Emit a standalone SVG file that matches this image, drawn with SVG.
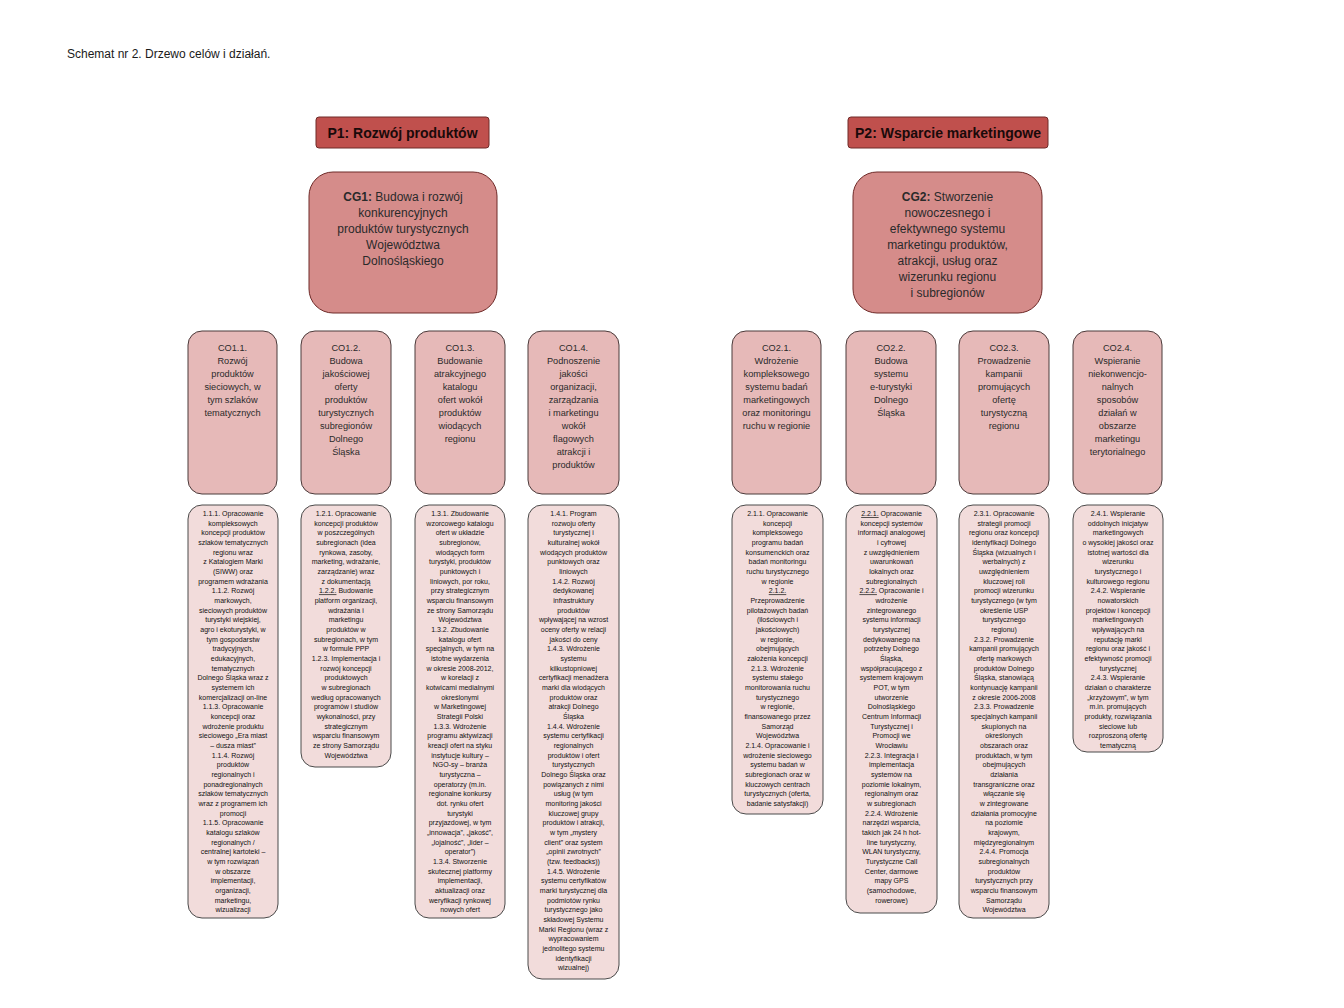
<svg xmlns="http://www.w3.org/2000/svg" width="1344" height="1008" viewBox="0 0 1344 1008">
<style>
.bg{fill:#ffffff}
.p{fill:#c0504d;stroke:#6e2a28;stroke-width:1}
.cg{fill:#d58c8a;stroke:#6e2a28;stroke-width:1}
.co{fill:#e6b9b8;stroke:#4a3a3a;stroke-width:1}
.act{fill:#f2dcdb;stroke:#4a4a4a;stroke-width:1}
text{font-family:"Liberation Sans",Arial,sans-serif;fill:#1a1a1a;text-anchor:middle}
.title{font-size:12px;text-anchor:start}
.pt{font-size:14px;font-weight:bold;fill:#1a0a0a}
.cgt{font-size:12px;fill:#2a2a2a}
.cot{font-size:9.2px;fill:#2a2a2a}
.at{font-size:7px;fill:#111}
.u{text-decoration:underline}
</style>
<rect class="bg" x="0" y="0" width="1344" height="1008"/>
<text class="title" x="67" y="58">Schemat nr 2. Drzewo celów i działań.</text>
<g id="connectors"></g>

<g id="P1"><rect class="p" x="316" y="117" width="173" height="31" rx="3"/><text class="pt" x="402.5" y="138">P1: Rozwój produktów</text></g>
<g id="P2"><rect class="p" x="848" y="117" width="200" height="31" rx="3"/><text class="pt" x="948" y="138">P2: Wsparcie marketingowe</text></g>

<g id="CG1"><rect class="cg" x="309" y="172" width="188" height="141" rx="24"/>
<text class="cgt" x="403" y="201"><tspan font-weight="bold">CG1:</tspan> Budowa i rozwój<tspan x="403" dy="16">konkurencyjnych</tspan><tspan x="403" dy="16">produktów turystycznych</tspan><tspan x="403" dy="16">Województwa</tspan><tspan x="403" dy="16">Dolnośląskiego</tspan></text></g>
<g id="CG2"><rect class="cg" x="853" y="172" width="189" height="141" rx="24"/>
<text class="cgt" x="947.5" y="201"><tspan font-weight="bold">CG2:</tspan> Stworzenie<tspan x="947.5" dy="16">nowoczesnego i</tspan><tspan x="947.5" dy="16">efektywnego systemu</tspan><tspan x="947.5" dy="16">marketingu produktów,</tspan><tspan x="947.5" dy="16">atrakcji, usług oraz</tspan><tspan x="947.5" dy="16">wizerunku regionu</tspan><tspan x="947.5" dy="16">i subregionów</tspan></text></g>

<g id="CO1.1"><rect class="co" x="188" y="331" width="89" height="163" rx="14"/>
<text class="cot" x="232.5" y="351">CO1.1.<tspan x="232.5" dy="13">Rozwój</tspan><tspan x="232.5" dy="13">produktów</tspan><tspan x="232.5" dy="13">sieciowych, w</tspan><tspan x="232.5" dy="13">tym szlaków</tspan><tspan x="232.5" dy="13">tematycznych</tspan></text></g>
<g id="CO1.2"><rect class="co" x="301" y="331" width="90" height="163" rx="14"/>
<text class="cot" x="346" y="351">CO1.2.<tspan x="346" dy="13">Budowa</tspan><tspan x="346" dy="13">jakościowej</tspan><tspan x="346" dy="13">oferty</tspan><tspan x="346" dy="13">produktów</tspan><tspan x="346" dy="13">turystycznych</tspan><tspan x="346" dy="13">subregionów</tspan><tspan x="346" dy="13">Dolnego</tspan><tspan x="346" dy="13">Śląska</tspan></text></g>
<g id="CO1.3"><rect class="co" x="415" y="331" width="90" height="163" rx="14"/>
<text class="cot" x="460" y="351">CO1.3.<tspan x="460" dy="13">Budowanie</tspan><tspan x="460" dy="13">atrakcyjnego</tspan><tspan x="460" dy="13">katalogu</tspan><tspan x="460" dy="13">ofert wokół</tspan><tspan x="460" dy="13">produktów</tspan><tspan x="460" dy="13">wiodących</tspan><tspan x="460" dy="13">regionu</tspan></text></g>
<g id="CO1.4"><rect class="co" x="528" y="331" width="91" height="163" rx="14"/>
<text class="cot" x="573.5" y="351">CO1.4.<tspan x="573.5" dy="13">Podnoszenie</tspan><tspan x="573.5" dy="13">jakości</tspan><tspan x="573.5" dy="13">organizacji,</tspan><tspan x="573.5" dy="13">zarządzania</tspan><tspan x="573.5" dy="13">i marketingu</tspan><tspan x="573.5" dy="13">wokół</tspan><tspan x="573.5" dy="13">flagowych</tspan><tspan x="573.5" dy="13">atrakcji i</tspan><tspan x="573.5" dy="13">produktów</tspan></text></g>
<g id="CO2.1"><rect class="co" x="732" y="331" width="89" height="163" rx="14"/>
<text class="cot" x="776.5" y="351">CO2.1.<tspan x="776.5" dy="13">Wdrożenie</tspan><tspan x="776.5" dy="13">kompleksowego</tspan><tspan x="776.5" dy="13">systemu badań</tspan><tspan x="776.5" dy="13">marketingowych</tspan><tspan x="776.5" dy="13">oraz monitoringu</tspan><tspan x="776.5" dy="13">ruchu w regionie</tspan></text></g>
<g id="CO2.2"><rect class="co" x="846" y="331" width="90" height="163" rx="14"/>
<text class="cot" x="891" y="351">CO2.2.<tspan x="891" dy="13">Budowa</tspan><tspan x="891" dy="13">systemu</tspan><tspan x="891" dy="13">e-turystyki</tspan><tspan x="891" dy="13">Dolnego</tspan><tspan x="891" dy="13">Śląska</tspan></text></g>
<g id="CO2.3"><rect class="co" x="959" y="331" width="90" height="163" rx="14"/>
<text class="cot" x="1004" y="351">CO2.3.<tspan x="1004" dy="13">Prowadzenie</tspan><tspan x="1004" dy="13">kampanii</tspan><tspan x="1004" dy="13">promujących</tspan><tspan x="1004" dy="13">ofertę</tspan><tspan x="1004" dy="13">turystyczną</tspan><tspan x="1004" dy="13">regionu</tspan></text></g>
<g id="CO2.4"><rect class="co" x="1073" y="331" width="89" height="163" rx="14"/>
<text class="cot" x="1117.5" y="351">CO2.4.<tspan x="1117.5" dy="13">Wspieranie</tspan><tspan x="1117.5" dy="13">niekonwencjo-</tspan><tspan x="1117.5" dy="13">nalnych</tspan><tspan x="1117.5" dy="13">sposobów</tspan><tspan x="1117.5" dy="13">działań w</tspan><tspan x="1117.5" dy="13">obszarze</tspan><tspan x="1117.5" dy="13">marketingu</tspan><tspan x="1117.5" dy="13">terytorialnego</tspan></text></g>

<g id="A1.1"><rect class="act" x="188" y="505" width="90" height="413" rx="14"/>
<text class="at" x="233" y="516">1.1.1. Opracowanie<tspan x="233" dy="9.67">kompleksowych</tspan><tspan x="233" dy="9.67">koncepcji produktów</tspan><tspan x="233" dy="9.67">szlaków tematycznych</tspan><tspan x="233" dy="9.67">regionu wraz</tspan><tspan x="233" dy="9.67">z Katalogiem Marki</tspan><tspan x="233" dy="9.67">(SIWW) oraz</tspan><tspan x="233" dy="9.67">programem wdrażania</tspan><tspan x="233" dy="9.67">1.1.2. Rozwój</tspan><tspan x="233" dy="9.67">markowych,</tspan><tspan x="233" dy="9.67">sieciowych produktów</tspan><tspan x="233" dy="9.67">turystyki wiejskiej,</tspan><tspan x="233" dy="9.67">agro i ekoturystyki, w</tspan><tspan x="233" dy="9.67">tym gospodarstw</tspan><tspan x="233" dy="9.67">tradycyjnych,</tspan><tspan x="233" dy="9.67">edukacyjnych,</tspan><tspan x="233" dy="9.67">tematycznych</tspan><tspan x="233" dy="9.67">Dolnego Śląska wraz z</tspan><tspan x="233" dy="9.67">systemem ich</tspan><tspan x="233" dy="9.67">komercjalizacji on-line</tspan><tspan x="233" dy="9.67">1.1.3. Opracowanie</tspan><tspan x="233" dy="9.67">koncepcji oraz</tspan><tspan x="233" dy="9.67">wdrożenie produktu</tspan><tspan x="233" dy="9.67">sieciowego „Era miast</tspan><tspan x="233" dy="9.67">– dusza miast”</tspan><tspan x="233" dy="9.67">1.1.4. Rozwój</tspan><tspan x="233" dy="9.67">produktów</tspan><tspan x="233" dy="9.67">regionalnych i</tspan><tspan x="233" dy="9.67">ponadregionalnych</tspan><tspan x="233" dy="9.67">szlaków tematycznych</tspan><tspan x="233" dy="9.67">wraz z programem ich</tspan><tspan x="233" dy="9.67">promocji</tspan><tspan x="233" dy="9.67">1.1.5. Opracowanie</tspan><tspan x="233" dy="9.67">katalogu szlaków</tspan><tspan x="233" dy="9.67">regionalnych /</tspan><tspan x="233" dy="9.67">centralnej kartoteki –</tspan><tspan x="233" dy="9.67">w tym rozwiązań</tspan><tspan x="233" dy="9.67">w obszarze</tspan><tspan x="233" dy="9.67">implementacji,</tspan><tspan x="233" dy="9.67">organizacji,</tspan><tspan x="233" dy="9.67">marketingu,</tspan><tspan x="233" dy="9.67">wizualizacji</tspan></text></g>

<g id="A1.2"><rect class="act" x="301" y="505" width="90" height="262" rx="14"/>
<text class="at" x="346" y="516">1.2.1. Opracowanie<tspan x="346" dy="9.67">koncepcji produktów</tspan><tspan x="346" dy="9.67">w poszczególnych</tspan><tspan x="346" dy="9.67">subregionach (idea</tspan><tspan x="346" dy="9.67">rynkowa, zasoby,</tspan><tspan x="346" dy="9.67">marketing, wdrażanie,</tspan><tspan x="346" dy="9.67">zarządzanie) wraz</tspan><tspan x="346" dy="9.67">z dokumentacją</tspan><tspan x="346" dy="9.67"><tspan class="u">1.2.2.</tspan> Budowanie</tspan><tspan x="346" dy="9.67">platform organizacji,</tspan><tspan x="346" dy="9.67">wdrażania i</tspan><tspan x="346" dy="9.67">marketingu</tspan><tspan x="346" dy="9.67">produktów w</tspan><tspan x="346" dy="9.67">subregionach, w tym</tspan><tspan x="346" dy="9.67">w formule PPP</tspan><tspan x="346" dy="9.67">1.2.3. Implementacja i</tspan><tspan x="346" dy="9.67">rozwój koncepcji</tspan><tspan x="346" dy="9.67">produktowych</tspan><tspan x="346" dy="9.67">w subregionach</tspan><tspan x="346" dy="9.67">według opracowanych</tspan><tspan x="346" dy="9.67">programów i studiów</tspan><tspan x="346" dy="9.67">wykonalności, przy</tspan><tspan x="346" dy="9.67">strategicznym</tspan><tspan x="346" dy="9.67">wsparciu finansowym</tspan><tspan x="346" dy="9.67">ze strony Samorządu</tspan><tspan x="346" dy="9.67">Województwa</tspan></text></g>

<g id="A1.3"><rect class="act" x="415" y="505" width="90" height="413" rx="14"/>
<text class="at" x="460" y="516">1.3.1. Zbudowanie<tspan x="460" dy="9.67">wzorcowego katalogu</tspan><tspan x="460" dy="9.67">ofert w układzie</tspan><tspan x="460" dy="9.67">subregionów,</tspan><tspan x="460" dy="9.67">wiodących form</tspan><tspan x="460" dy="9.67">turystyki, produktów</tspan><tspan x="460" dy="9.67">punktowych i</tspan><tspan x="460" dy="9.67">liniowych, por roku,</tspan><tspan x="460" dy="9.67">przy strategicznym</tspan><tspan x="460" dy="9.67">wsparciu finansowym</tspan><tspan x="460" dy="9.67">ze strony Samorządu</tspan><tspan x="460" dy="9.67">Województwa</tspan><tspan x="460" dy="9.67">1.3.2. Zbudowanie</tspan><tspan x="460" dy="9.67">katalogu ofert</tspan><tspan x="460" dy="9.67">specjalnych, w tym na</tspan><tspan x="460" dy="9.67">istotne wydarzenia</tspan><tspan x="460" dy="9.67">w okresie 2008-2012,</tspan><tspan x="460" dy="9.67">w korelacji z</tspan><tspan x="460" dy="9.67">kotwicami medialnymi</tspan><tspan x="460" dy="9.67">określonymi</tspan><tspan x="460" dy="9.67">w  Marketingowej</tspan><tspan x="460" dy="9.67">Strategii Polski</tspan><tspan x="460" dy="9.67">1.3.3. Wdrożenie</tspan><tspan x="460" dy="9.67">programu aktywizacji</tspan><tspan x="460" dy="9.67">kreacji ofert na styku</tspan><tspan x="460" dy="9.67">instytucje kultury –</tspan><tspan x="460" dy="9.67">NGO-sy – branża</tspan><tspan x="460" dy="9.67">turystyczna –</tspan><tspan x="460" dy="9.67">operatorzy (m.in.</tspan><tspan x="460" dy="9.67">regionalne konkursy</tspan><tspan x="460" dy="9.67">dot. rynku ofert</tspan><tspan x="460" dy="9.67">turystyki</tspan><tspan x="460" dy="9.67">przyjazdowej, w tym</tspan><tspan x="460" dy="9.67">„innowacja”, „jakość”,</tspan><tspan x="460" dy="9.67">„lojalność”, „lider –</tspan><tspan x="460" dy="9.67">operator”)</tspan><tspan x="460" dy="9.67">1.3.4. Stworzenie</tspan><tspan x="460" dy="9.67">skutecznej platformy</tspan><tspan x="460" dy="9.67">implementacji,</tspan><tspan x="460" dy="9.67">aktualizacji oraz</tspan><tspan x="460" dy="9.67">weryfikacji rynkowej</tspan><tspan x="460" dy="9.67">nowych ofert</tspan></text></g>

<g id="A1.4"><rect class="act" x="528" y="505" width="91" height="474" rx="14"/>
<text class="at" x="573.5" y="516">1.4.1. Program<tspan x="573.5" dy="9.67">rozwoju oferty</tspan><tspan x="573.5" dy="9.67">turystycznej i</tspan><tspan x="573.5" dy="9.67">kulturalnej wokół</tspan><tspan x="573.5" dy="9.67">wiodących produktów</tspan><tspan x="573.5" dy="9.67">punktowych oraz</tspan><tspan x="573.5" dy="9.67">liniowych</tspan><tspan x="573.5" dy="9.67">1.4.2. Rozwój</tspan><tspan x="573.5" dy="9.67">dedykowanej</tspan><tspan x="573.5" dy="9.67">infrastruktury</tspan><tspan x="573.5" dy="9.67">produktów</tspan><tspan x="573.5" dy="9.67">wpływającej na wzrost</tspan><tspan x="573.5" dy="9.67">oceny oferty w relacji</tspan><tspan x="573.5" dy="9.67">jakości do ceny</tspan><tspan x="573.5" dy="9.67">1.4.3. Wdrożenie</tspan><tspan x="573.5" dy="9.67">systemu</tspan><tspan x="573.5" dy="9.67">kilkustopniowej</tspan><tspan x="573.5" dy="9.67">certyfikacji menadżera</tspan><tspan x="573.5" dy="9.67">marki dla wiodących</tspan><tspan x="573.5" dy="9.67">produktów oraz</tspan><tspan x="573.5" dy="9.67">atrakcji Dolnego</tspan><tspan x="573.5" dy="9.67">Śląska</tspan><tspan x="573.5" dy="9.67">1.4.4. Wdrożenie</tspan><tspan x="573.5" dy="9.67">systemu certyfikacji</tspan><tspan x="573.5" dy="9.67">regionalnych</tspan><tspan x="573.5" dy="9.67">produktów i ofert</tspan><tspan x="573.5" dy="9.67">turystycznych</tspan><tspan x="573.5" dy="9.67">Dolnego Śląska oraz</tspan><tspan x="573.5" dy="9.67">powiązanych z nimi</tspan><tspan x="573.5" dy="9.67">usług (w tym</tspan><tspan x="573.5" dy="9.67">monitoring jakości</tspan><tspan x="573.5" dy="9.67">kluczowej grupy</tspan><tspan x="573.5" dy="9.67">produktów i atrakcji,</tspan><tspan x="573.5" dy="9.67">w tym  „mystery</tspan><tspan x="573.5" dy="9.67">client” oraz system</tspan><tspan x="573.5" dy="9.67">„opinii zwrotnych”</tspan><tspan x="573.5" dy="9.67">(tzw. feedbacks))</tspan><tspan x="573.5" dy="9.67">1.4.5. Wdrożenie</tspan><tspan x="573.5" dy="9.67">systemu certyfikatów</tspan><tspan x="573.5" dy="9.67">marki turystycznej dla</tspan><tspan x="573.5" dy="9.67">podmiotów rynku</tspan><tspan x="573.5" dy="9.67">turystycznego jako</tspan><tspan x="573.5" dy="9.67">składowej Systemu</tspan><tspan x="573.5" dy="9.67">Marki Regionu (wraz z</tspan><tspan x="573.5" dy="9.67">wypracowaniem</tspan><tspan x="573.5" dy="9.67">jednolitego systemu</tspan><tspan x="573.5" dy="9.67">identyfikacji</tspan><tspan x="573.5" dy="9.67">wizualnej)</tspan></text></g>

<g id="A2.1"><rect class="act" x="732" y="505" width="91" height="309" rx="14"/>
<text class="at" x="777.5" y="516">2.1.1. Opracowanie<tspan x="777.5" dy="9.67">koncepcji</tspan><tspan x="777.5" dy="9.67">kompleksowego</tspan><tspan x="777.5" dy="9.67">programu badań</tspan><tspan x="777.5" dy="9.67">konsumenckich oraz</tspan><tspan x="777.5" dy="9.67">badań monitoringu</tspan><tspan x="777.5" dy="9.67">ruchu turystycznego</tspan><tspan x="777.5" dy="9.67">w regionie</tspan><tspan x="777.5" dy="9.67" class="u">2.1.2.</tspan><tspan x="777.5" dy="9.67">Przeprowadzenie</tspan><tspan x="777.5" dy="9.67">pilotażowych badań</tspan><tspan x="777.5" dy="9.67">(ilościowych i</tspan><tspan x="777.5" dy="9.67">jakościowych)</tspan><tspan x="777.5" dy="9.67">w regionie,</tspan><tspan x="777.5" dy="9.67">obejmujących</tspan><tspan x="777.5" dy="9.67">założenia  koncepcji</tspan><tspan x="777.5" dy="9.67">2.1.3. Wdrożenie</tspan><tspan x="777.5" dy="9.67">systemu stałego</tspan><tspan x="777.5" dy="9.67">monitorowania ruchu</tspan><tspan x="777.5" dy="9.67">turystycznego</tspan><tspan x="777.5" dy="9.67">w regionie,</tspan><tspan x="777.5" dy="9.67">finansowanego przez</tspan><tspan x="777.5" dy="9.67">Samorząd</tspan><tspan x="777.5" dy="9.67">Województwa</tspan><tspan x="777.5" dy="9.67">2.1.4. Opracowanie i</tspan><tspan x="777.5" dy="9.67">wdrożenie sieciowego</tspan><tspan x="777.5" dy="9.67">systemu badań w</tspan><tspan x="777.5" dy="9.67">subregionach oraz w</tspan><tspan x="777.5" dy="9.67">kluczowych centrach</tspan><tspan x="777.5" dy="9.67">turystycznych (oferta,</tspan><tspan x="777.5" dy="9.67">badanie satysfakcji)</tspan></text></g>

<g id="A2.2"><rect class="act" x="846" y="505" width="91" height="408" rx="14"/>
<text class="at" x="891.5" y="516"><tspan class="u">2.2.1.</tspan> Opracowanie<tspan x="891.5" dy="9.67">koncepcji systemów</tspan><tspan x="891.5" dy="9.67">informacji analogowej</tspan><tspan x="891.5" dy="9.67">i cyfrowej</tspan><tspan x="891.5" dy="9.67">z uwzględnieniem</tspan><tspan x="891.5" dy="9.67">uwarunkowań</tspan><tspan x="891.5" dy="9.67">lokalnych oraz</tspan><tspan x="891.5" dy="9.67">subregionalnych</tspan><tspan x="891.5" dy="9.67"><tspan class="u">2.2.2.</tspan> Opracowanie i</tspan><tspan x="891.5" dy="9.67">wdrożenie</tspan><tspan x="891.5" dy="9.67">zintegrowanego</tspan><tspan x="891.5" dy="9.67">systemu informacji</tspan><tspan x="891.5" dy="9.67">turystycznej</tspan><tspan x="891.5" dy="9.67">dedykowanego na</tspan><tspan x="891.5" dy="9.67">potrzeby Dolnego</tspan><tspan x="891.5" dy="9.67">Śląska,</tspan><tspan x="891.5" dy="9.67">współpracującego z</tspan><tspan x="891.5" dy="9.67">systemem krajowym</tspan><tspan x="891.5" dy="9.67">POT, w tym</tspan><tspan x="891.5" dy="9.67">utworzenie</tspan><tspan x="891.5" dy="9.67">Dolnośląskiego</tspan><tspan x="891.5" dy="9.67">Centrum Informacji</tspan><tspan x="891.5" dy="9.67">Turystycznej i</tspan><tspan x="891.5" dy="9.67">Promocji we</tspan><tspan x="891.5" dy="9.67">Wrocławiu</tspan><tspan x="891.5" dy="9.67">2.2.3. Integracja i</tspan><tspan x="891.5" dy="9.67">implementacja</tspan><tspan x="891.5" dy="9.67">systemów na</tspan><tspan x="891.5" dy="9.67">poziomie lokalnym,</tspan><tspan x="891.5" dy="9.67">regionalnym oraz</tspan><tspan x="891.5" dy="9.67">w subregionach</tspan><tspan x="891.5" dy="9.67">2.2.4. Wdrożenie</tspan><tspan x="891.5" dy="9.67">narzędzi wsparcia,</tspan><tspan x="891.5" dy="9.67">takich jak 24 h hot-</tspan><tspan x="891.5" dy="9.67">line turystyczny,</tspan><tspan x="891.5" dy="9.67">WLAN turystyczny,</tspan><tspan x="891.5" dy="9.67">Turystyczne Call</tspan><tspan x="891.5" dy="9.67">Center, darmowe</tspan><tspan x="891.5" dy="9.67">mapy GPS</tspan><tspan x="891.5" dy="9.67">(samochodowe,</tspan><tspan x="891.5" dy="9.67">rowerowe)</tspan></text></g>

<g id="A2.3"><rect class="act" x="959" y="505" width="90" height="413" rx="14"/>
<text class="at" x="1004" y="516">2.3.1. Opracowanie<tspan x="1004" dy="9.67">strategii promocji</tspan><tspan x="1004" dy="9.67">regionu oraz koncepcji</tspan><tspan x="1004" dy="9.67">identyfikacji Dolnego</tspan><tspan x="1004" dy="9.67">Śląska (wizualnych i</tspan><tspan x="1004" dy="9.67">werbalnych) z</tspan><tspan x="1004" dy="9.67">uwzględnieniem</tspan><tspan x="1004" dy="9.67">kluczowej roli</tspan><tspan x="1004" dy="9.67">promocji wizerunku</tspan><tspan x="1004" dy="9.67">turystycznego (w tym</tspan><tspan x="1004" dy="9.67">określenie USP</tspan><tspan x="1004" dy="9.67">turystycznego</tspan><tspan x="1004" dy="9.67">regionu)</tspan><tspan x="1004" dy="9.67">2.3.2. Prowadzenie</tspan><tspan x="1004" dy="9.67">kampanii promujących</tspan><tspan x="1004" dy="9.67">ofertę markowych</tspan><tspan x="1004" dy="9.67">produktów Dolnego</tspan><tspan x="1004" dy="9.67">Śląska, stanowiącą</tspan><tspan x="1004" dy="9.67">kontynuację kampanii</tspan><tspan x="1004" dy="9.67">z okresie 2006-2008</tspan><tspan x="1004" dy="9.67">2.3.3. Prowadzenie</tspan><tspan x="1004" dy="9.67">specjalnych kampanii</tspan><tspan x="1004" dy="9.67">skupionych na</tspan><tspan x="1004" dy="9.67">określonych</tspan><tspan x="1004" dy="9.67">obszarach oraz</tspan><tspan x="1004" dy="9.67">produktach, w tym</tspan><tspan x="1004" dy="9.67">obejmujących</tspan><tspan x="1004" dy="9.67">działania</tspan><tspan x="1004" dy="9.67">transgraniczne oraz</tspan><tspan x="1004" dy="9.67">włączanie się</tspan><tspan x="1004" dy="9.67">w zintegrowane</tspan><tspan x="1004" dy="9.67">działania promocyjne</tspan><tspan x="1004" dy="9.67">na poziomie</tspan><tspan x="1004" dy="9.67">krajowym,</tspan><tspan x="1004" dy="9.67">międzyregionalnym</tspan><tspan x="1004" dy="9.67">2.4.4. Promocja</tspan><tspan x="1004" dy="9.67">subregionalnych</tspan><tspan x="1004" dy="9.67">produktów</tspan><tspan x="1004" dy="9.67">turystycznych przy</tspan><tspan x="1004" dy="9.67">wsparciu finansowym</tspan><tspan x="1004" dy="9.67">Samorządu</tspan><tspan x="1004" dy="9.67">Województwa</tspan></text></g>

<g id="A2.4"><rect class="act" x="1073" y="505" width="90" height="247" rx="14"/>
<text class="at" x="1118" y="516">2.4.1. Wspieranie<tspan x="1118" dy="9.67">oddolnych inicjatyw</tspan><tspan x="1118" dy="9.67">marketingowych</tspan><tspan x="1118" dy="9.67">o wysokiej jakości oraz</tspan><tspan x="1118" dy="9.67">istotnej wartości dla</tspan><tspan x="1118" dy="9.67">wizerunku</tspan><tspan x="1118" dy="9.67">turystycznego i</tspan><tspan x="1118" dy="9.67">kulturowego regionu</tspan><tspan x="1118" dy="9.67">2.4.2. Wspieranie</tspan><tspan x="1118" dy="9.67">nowatorskich</tspan><tspan x="1118" dy="9.67">projektów i koncepcji</tspan><tspan x="1118" dy="9.67">marketingowych</tspan><tspan x="1118" dy="9.67">wpływających na</tspan><tspan x="1118" dy="9.67">reputację marki</tspan><tspan x="1118" dy="9.67">regionu oraz jakość i</tspan><tspan x="1118" dy="9.67">efektywność promocji</tspan><tspan x="1118" dy="9.67">turystycznej</tspan><tspan x="1118" dy="9.67">2.4.3. Wspieranie</tspan><tspan x="1118" dy="9.67">działań o charakterze</tspan><tspan x="1118" dy="9.67">„krzyżowym”, w tym</tspan><tspan x="1118" dy="9.67">m.in. promujących</tspan><tspan x="1118" dy="9.67">produkty, rozwiązania</tspan><tspan x="1118" dy="9.67">sieciowe lub</tspan><tspan x="1118" dy="9.67">rozproszoną ofertę</tspan><tspan x="1118" dy="9.67">tematyczną</tspan></text></g>
</svg>
